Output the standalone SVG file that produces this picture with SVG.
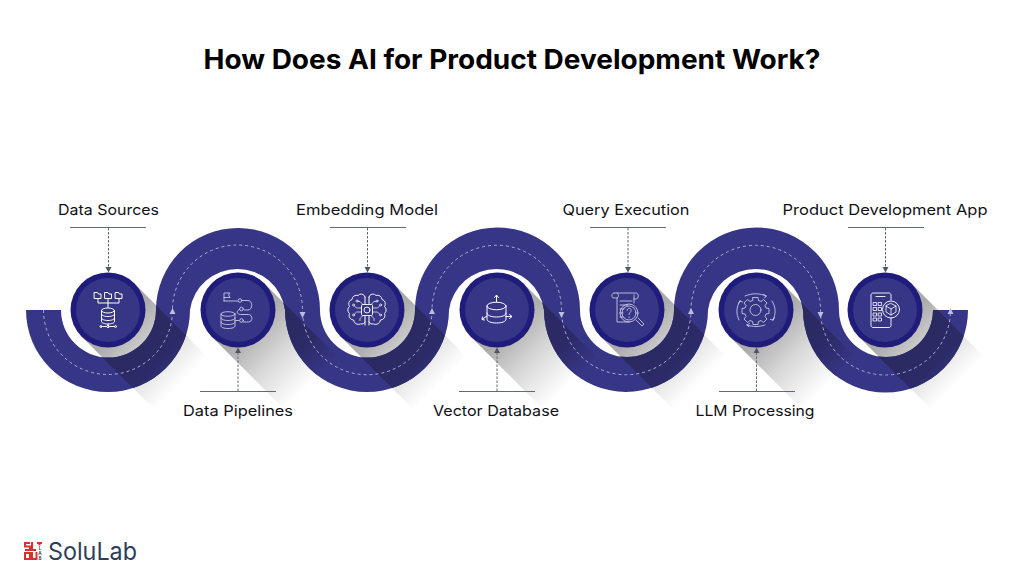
<svg xmlns="http://www.w3.org/2000/svg" width="1024" height="577" viewBox="0 0 1024 577">
<style>
text{font-family:"Inter","Liberation Sans",sans-serif}
.lb{font-size:14.6px;font-weight:400;fill:#111116;text-anchor:middle}
.rule{stroke:#5f6a73;stroke-width:1;fill:none}
.lead{stroke:#5f6a73;stroke-width:1;stroke-dasharray:2.5 1.5;fill:none}
.head{fill:#4d5862}
.dash{fill:none;stroke:#aeaed4;stroke-width:1;stroke-dasharray:3 3}
.tri{fill:#bdbddc}
.o{fill:#1f1c7c}.i{fill:#373585}
.ic{fill:none;stroke:#fff;stroke-width:1;stroke-linecap:round;stroke-linejoin:round}
.ic2{fill:none;stroke:#d9d9ee;stroke-width:.8;stroke-linecap:round;stroke-linejoin:round}
</style>
<defs>
<linearGradient id="sg" gradientUnits="userSpaceOnUse" x1="15" y1="15" x2="73" y2="73">
<stop offset="0" stop-color="#000" stop-opacity=".33"/><stop offset=".45" stop-color="#000" stop-opacity=".16"/><stop offset="1" stop-color="#000" stop-opacity="0"/>
</linearGradient>
<linearGradient id="dg" gradientUnits="userSpaceOnUse" x1="25" y1="25" x2="73" y2="73">
<stop offset="0" stop-color="#2a2960"/><stop offset=".55" stop-color="#2c2b68"/><stop offset="1" stop-color="#373585"/>
</linearGradient>
<path id="sh" d="M26.500-26.500L99 46.500L47 100L-26.500 26.500Z"/>
<clipPath id="rc"><path d="M26 310A82 82 0 0 0 190 310A48 48 0 0 1 285 310A82 82 0 0 0 449 310A48 48 0 0 1 544 310A82 82 0 0 0 708 310A48 48 0 0 1 803 310A82 82 0 0 0 968 310H933A47 47 0 0 1 839 310A82 82 0 0 0 674 310A47 47 0 0 1 580 310 A82 82 0 0 0 415 310A47 47 0 0 1 320 310A82 82 0 0 0 156 310A47 47 0 0 1 61 310Z"/></clipPath>
<path id="rb" d="M26 310A82 82 0 0 0 190 310A48 48 0 0 1 285 310A82 82 0 0 0 449 310A48 48 0 0 1 544 310A82 82 0 0 0 708 310A48 48 0 0 1 803 310A82 82 0 0 0 968 310H933A47 47 0 0 1 839 310A82 82 0 0 0 674 310A47 47 0 0 1 580 310 A82 82 0 0 0 415 310A47 47 0 0 1 320 310A82 82 0 0 0 156 310A47 47 0 0 1 61 310Z"/>
</defs>
<rect width="1024" height="577" fill="#fff"/>
<text x="512" y="69" text-anchor="middle" font-size="27" font-weight="700" fill="#000" textLength="617" lengthAdjust="spacingAndGlyphs">How Does AI for Product Development Work?</text>

<g id="shadows">
<use href="#sh" x="108" y="310" fill="url(#sg)"/><use href="#sh" x="238" y="310" fill="url(#sg)"/><use href="#sh" x="367" y="310" fill="url(#sg)"/><use href="#sh" x="497" y="310" fill="url(#sg)"/><use href="#sh" x="627" y="310" fill="url(#sg)"/><use href="#sh" x="756" y="310" fill="url(#sg)"/><use href="#sh" x="885" y="310" fill="url(#sg)"/>
</g>
<use id="ribbon-band" href="#rb" fill="#373585"/>
<g id="ribbon-shadows" clip-path="url(#rc)">
<use href="#sh" x="108" y="310" fill="url(#dg)"/><use href="#sh" x="238" y="310" fill="url(#dg)"/><use href="#sh" x="367" y="310" fill="url(#dg)"/><use href="#sh" x="497" y="310" fill="url(#dg)"/><use href="#sh" x="627" y="310" fill="url(#dg)"/><use href="#sh" x="756" y="310" fill="url(#dg)"/><use href="#sh" x="885" y="310" fill="url(#dg)"/>
</g>

<g id="connectors">
<path class="dash" d="M43.500 310A64.500 64.500 0 0 0 172.500 310A65 65 0 0 1 302.500 310A64.750 64.750 0 0 0 432 310A64.750 64.750 0 0 1 561.500 310A64.750 64.750 0 0 0 691 310A64.750 64.750 0 0 1 820.500 310A65 65 0 0 0 950.500 310"/>
<path class="tri" d="M172.500 308l3 6h-6zM302.500 318l3-6h-6zM432 308l3 6h-6zM561.500 318l3-6h-6zM691 308l3 6h-6zM820.500 318l3-6h-6zM950.500 308l3 6h-6z"/>
<path class="rule" d="M70 227.500H146M330 227.500H406M590 227.500H666M848 227.500H924M200 391.500H276M459 391.500H535M719 391.500H795"/>
<path class="lead" d="M108.500 228V267M367.500 228V267M628 228V267M885.500 228V267M238 391V353M497 391V353M756.500 391V353"/>
<path class="head" d="M108.500 272.500l-3-5.500h6zM367.500 272.500l-3-5.500h6zM628 272.500l-3-5.500h6zM885.500 272.500l-3-5.500h6zM238 347.500l-3 5.500h6zM497 347.500l-3 5.500h6zM756.500 347.500l-3 5.500h6z"/>
</g>

<g id="n1"><circle class="o" cx="108" cy="310" r="37.500"/><circle class="i" cx="108" cy="310" r="32"/>
<g class="ic"><path d="M94.500 292.500h3l1 1.500h2.500v4.500h-6.500zM105 292.500h3l1 1.500h2.500v4.500H105zM115.500 292.500h3l1 1.500h2.500v4.500h-6.500z"/><path d="M108 298.500v9M98 298.500v4.500h21v-4.500"/><ellipse cx="108" cy="310.500" rx="6.500" ry="2.500"/><path d="M101.500 310.500v11c0 1.500 3 2.500 6.500 2.500s6.500-1 6.500-2.500v-11M101.500 314c0 1.500 3 2.500 6.500 2.500s6.500-1 6.500-2.500M101.500 318c0 1.500 3 2.500 6.500 2.500s6.500-1 6.500-2.500M102 326.500h4.500M110 326.500h4.500M108 324v1"/><circle cx="101" cy="326.500" r="1"/><circle cx="108" cy="326.500" r="1.200"/><circle cx="115.500" cy="326.500" r="1"/></g>
<text class="lb" x="108.500" y="215" textLength="101" lengthAdjust="spacingAndGlyphs">Data Sources</text></g>

<g id="n2"><circle class="o" cx="238" cy="310" r="37.500"/><circle class="i" cx="238" cy="310" r="32"/>
<g class="ic2"><path d="M224 301v-8h6l-1.500 2 1.500 2.500h-6M224 301h13.500M242 300.500h6c5 0 5 9.500 0 9.500h-3.500M239.500 309.500c-3.500 1-3 5 1 5h8c4.500 0 4.500 7.500 0 7.500h-5M239 320.500h-4"/><circle cx="240" cy="300.500" r="1.800"/><circle cx="241.500" cy="309" r="1.800"/><circle cx="241.500" cy="320.500" r="1.800"/><ellipse cx="228" cy="314" rx="7" ry="2.300"/><path d="M221 314v12c0 1.500 3 2.500 7 2.500s7-1 7-2.500v-12M221 318c0 1.500 3 2.500 7 2.500s7-1 7-2.500M221 322c0 1.500 3 2.500 7 2.500s7-1 7-2.500"/></g>
<text class="lb" x="238" y="416" textLength="110" lengthAdjust="spacingAndGlyphs">Data Pipelines</text></g>

<g id="n3"><circle class="o" cx="367" cy="310" r="37.500"/><circle class="i" cx="367" cy="310" r="32"/>
<g class="ic"><path d="M365 297a4 4 0 0 0-7-1.500a4.500 4.500 0 0 0-6 4a4.500 4.500 0 0 0-2.500 7a4.500 4.500 0 0 0 0 7a4.500 4.500 0 0 0 4 6.500a5 5 0 0 0 7 4a4 4 0 0 0 4.500-2M369 297a4 4 0 0 1 7-1.500a4.500 4.500 0 0 1 6 4a4.500 4.500 0 0 1 2.500 7a4.500 4.500 0 0 1 0 7a4.500 4.500 0 0 1-4 6.500a5 5 0 0 1-7 4a4 4 0 0 1-4.500-2" stroke-width=".9"/><path d="M365 297v7M369 297v7M365 316v9M369 316v9"/><rect x="361.500" y="304.500" width="11" height="11" rx="1" stroke-width=".9"/><circle cx="367" cy="310" r="3" stroke-width=".9"/><path d="M361.500 308h-5l-2-2M361.500 312h-5l-2 2M372.500 308h5l2-2M372.500 312h5l2 2M363 304.500l-3-3h-2M371 304.500l3-3h2M363 315.500l-3 3v2M371 315.500l3 3v2" stroke-width=".7"/><g stroke-width=".7"><circle cx="353.500" cy="305" r="1"/><circle cx="353.500" cy="315" r="1"/><circle cx="380.500" cy="305" r="1"/><circle cx="380.500" cy="315" r="1"/><circle cx="357" cy="301" r="1"/><circle cx="377" cy="301" r="1"/></g></g>
<text class="lb" x="367" y="215" textLength="142" lengthAdjust="spacingAndGlyphs">Embedding Model</text></g>

<g id="n4"><circle class="o" cx="497" cy="310" r="37.500"/><circle class="i" cx="497" cy="310" r="32"/>
<g class="ic"><ellipse cx="496.500" cy="306" rx="9.500" ry="3.800"/><path d="M487 306v13c0 2.500 4 4 9.500 4s9.500-1.500 9.500-4v-13M487 313c0 2.500 4 4 9.500 4s9.500-1.500 9.500-4M496.500 302v-6.500M494.500 297.500l2-2.500 2 2.500M487 316l-4.500 3M506 316.500h5.500M509.500 314.500l2.500 2-2.500 2M482.500 317l-.5 2.500 2.500 .5"/></g>
<text class="lb" x="496" y="416" textLength="126" lengthAdjust="spacingAndGlyphs">Vector Database</text></g>

<g id="n5"><circle class="o" cx="627" cy="310" r="37.500"/><circle class="i" cx="627" cy="310" r="32"/>
<g class="ic2"><path d="M614 293h22c3 0 3 6 0 6h-2M614 293c-3 0-3 5 0 5h3M617 293c2 1 2 4 0 5v24h12M634 295v8M620 301h12M620 305h8M620 309h4M620 313h3M620 317h3"/><circle cx="629" cy="313" r="9"/><circle cx="629" cy="313" r="7"/><path d="M636 320l6 6 2-2-6-6M627 310.500c0-3 4.500-3 4 0 0 1.800-2 2-2 4M629 317v.5"/></g>
<text class="lb" x="626" y="215" textLength="127" lengthAdjust="spacingAndGlyphs">Query Execution</text></g>

<g id="n6"><circle class="o" cx="756" cy="310" r="37.500"/><circle class="i" cx="756" cy="310" r="32"/>
<g class="ic2"><path d="M753 298h5l.5 3 2.500 1 2.500-2 3.500 3.500-2 2.500 1 2.500 3 .5v5l-3 .5-1 2.500 2 2.500-3.500 3.500-2.500-2-2.500 1-.5 3h-5l-.5-3-2.500-1-2.500 2-3.500-3.500 2-2.500-1-2.500-3-.5v-5l3-.5 1-2.500-2-2.500 3.500-3.500 2.500 2 2.500-1z" transform="translate(0 -.5)"/><circle cx="755.500" cy="310" r="5.500"/><path d="M745 296c7-3 15-3 21 0M766 296l-2.500-1.500M766 296l-1.500 2M740 301c-4 6-4 13-1 19M740 301l-1.500 2.500M740 301l2.500 1M772 301c4 6 4 13 1 19M773 320l1.500-2.500M773 320l-2.500-.5M747 325c6 2 12 2 18 0M747 325l2.500-1.500M747 325l2 2"/></g>
<text class="lb" x="755" y="416" textLength="119" lengthAdjust="spacingAndGlyphs">LLM Processing</text></g>

<g id="n7"><circle class="o" cx="885" cy="310" r="37.500"/><circle class="i" cx="885" cy="310" r="32"/>
<g class="ic"><path d="M891 300v-5c0-1-1-2-2-2h-16c-1 0-2 1-2 2v30.500c0 1 1 2 2 2h16c1 0 2-1 2-2v-7.500M876 296.500h9" stroke-width=".9"/><path d="M873.500 302.500h3v3h-3zM878.500 302.500h3v3h-3zM873.500 307.500h3v3h-3zM878.500 307.500h3v3h-3zM873.500 313h3v3h-3zM878.500 313h3v3h-3zM873.500 318h3v3h-3zM878.500 318h3v3h-3z" stroke-width=".8"/><circle cx="891" cy="309.500" r="8.500" stroke-width=".9"/><path d="M891 303.500l5 2.500v6l-5 3-5-3v-6zM886 306l5 3 5-3M891 309v6" stroke-width=".8"/></g>
<text class="lb" x="885" y="215" textLength="205" lengthAdjust="spacingAndGlyphs">Product Development App</text></g>

<g id="logo">
<g fill="none" stroke="#d9322e" stroke-width="2"><path d="M30 543h-5v3.500h5v3.500h-5M32 542v8h4M37 543h5M39.500 543v2.500M25 553v6h5v-6zM32 552v7h4.500v-7"/></g>
<g font-size="4.500" font-weight="700" fill="#3a4a5e" text-anchor="middle"><text x="40" y="550">L</text><text x="40" y="555">A</text><text x="40" y="560">B</text></g>
<text x="48" y="559.500" font-size="24.500" font-weight="400" fill="#2b3f58" textLength="89" lengthAdjust="spacingAndGlyphs">SoluLab</text>
</g>
</svg>
